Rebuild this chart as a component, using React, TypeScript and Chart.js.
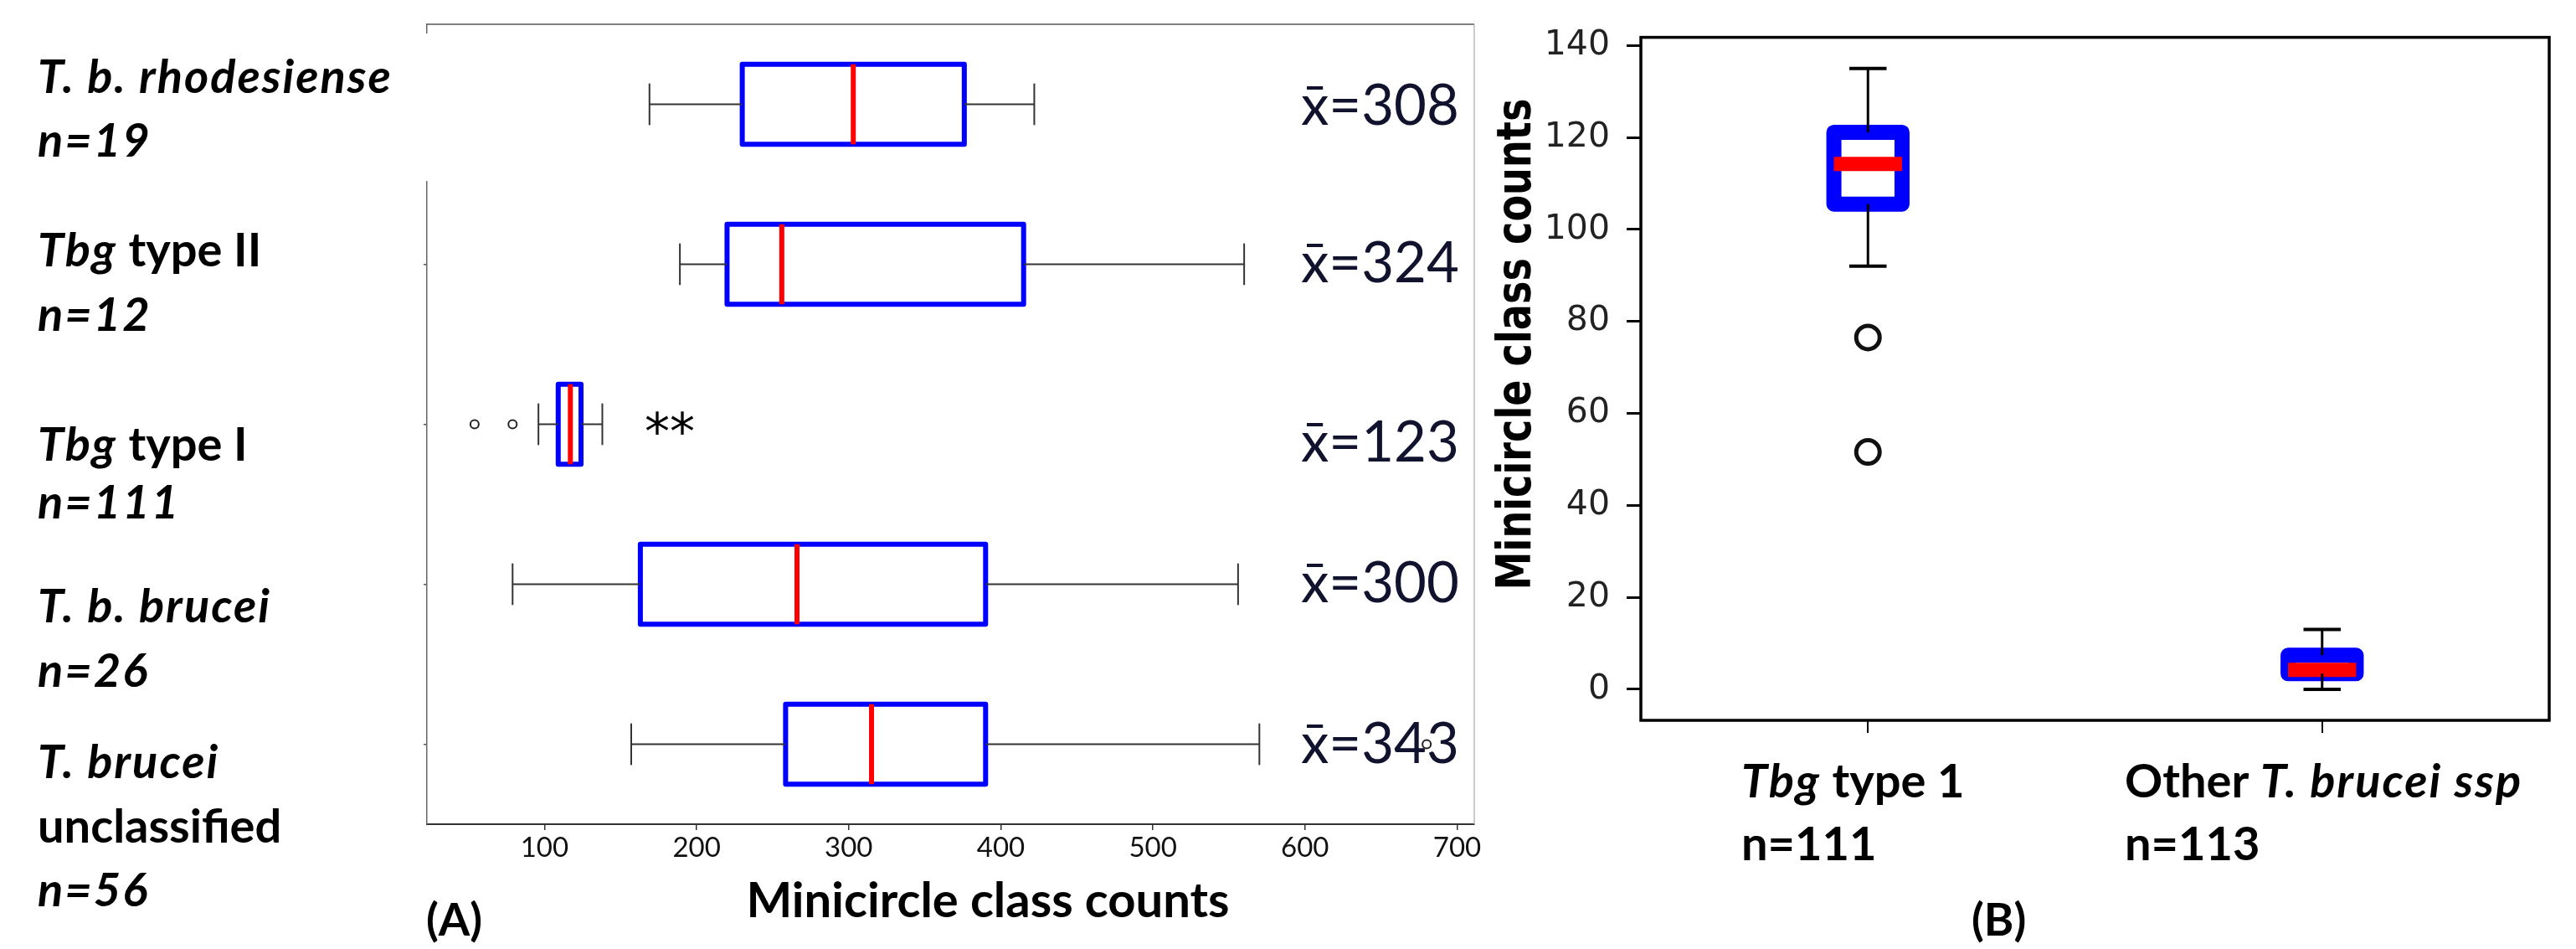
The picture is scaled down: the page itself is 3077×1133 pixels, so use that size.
import React, { useEffect, useRef } from 'react';
import { Chart, registerables } from 'chart.js';

Chart.register(...registerables);

// ---------- Panel A data ----------
const categoriesA = ['T. b. rhodesiense', 'Tbg type II', 'Tbg type I', 'T. b. brucei', 'T. brucei unclassified'];
const countsA = [19, 12, 111, 26, 56];
const whiskerLowA = [169, 189, 96, 79, 157];
const q1A = [230, 220, 109, 163, 258.5];
const medianA = [303, 256, 117, 266, 315];
const q3A = [376, 415, 124, 390, 390];
const whiskerHighA = [422, 560, 138, 556, 570];
const outlierValuesA = [54, 79, 680];
const outlierGroupsA = ['Tbg type I', 'Tbg type I', 'T. brucei unclassified'];
const meansA = [308, 324, 123, 300, 343];
const xRangeA = [22.7, 711.3];
const xTickStepA = 100;

// ---------- Panel B data ----------
const categoriesB = ['Tbg type 1', 'Other T. brucei ssp'];
const countsB = [111, 113];
const whiskerLowB = [92, 0];
const q1B = [105.5, 3.4];
const medianB = [114.2, 4.2];
const q3B = [121.1, 7.4];
const whiskerHighB = [135, 13];
const outlierValuesB = [76.5, 51.6];
const outlierGroupsB = ['Tbg type 1', 'Tbg type 1'];
const yRangeB = [-6.75, 141.75];
const yTickStepB = 20;

type Seg = [string, boolean];

const rowLabelsA: Seg[][][] = [
  [[['T. b. rhodesiense', true]], [['n=' + countsA[0], true]]],
  [[['Tbg', true], [' type II', false]], [['n=' + countsA[1], true]]],
  [[['Tbg', true], [' type I', false]], [['n=' + countsA[2], true]]],
  [[['T. b. brucei', true]], [['n=' + countsA[3], true]]],
  [[['T. brucei', true]], [['unclassified', false]], [['n=' + countsA[4], true]]],
];
const colLabelsB: Seg[][][] = [
  [[['Tbg', true], [' type 1', false]], [['n=' + countsB[0], false]]],
  [[['Other ', false], ['T. brucei ssp', true]], [['n=' + countsB[1], false]]],
];

const CANVAS_A_W = 1785;
const CANVAS_B_LEFT = 1770;
const CANVAS_B_W = 3077 - CANVAS_B_LEFT;
const H = 1133;

const BLUE = '#0000ff';
const RED = '#ff0000';

function drawRich(ctx: CanvasRenderingContext2D, x: number, y: number, segs: Seg[], size: number, family: string) {
  let cx = x;
  for (const [t, it] of segs) {
    ctx.font = `${it ? 'italic ' : ''}bold ${size}px ${family}`;
    (ctx as any).letterSpacing = it ? '2px' : '0px';
    ctx.fillText(t, cx, y);
    cx += ctx.measureText(t).width;
  }
  (ctx as any).letterSpacing = '0px';
}

interface BoxOpts {
  horizontal: boolean;
  low: number[]; q1: number[]; med: number[]; q3: number[]; high: number[];
  boxWidth: number; capWidth: number;
  boxLine: number; medLine: number; whiskerLine: number; capLine: number;
  whiskerColor: string; join: CanvasLineJoin;
}

function drawBoxes(chart: any, o: BoxOpts) {
  const ctx: CanvasRenderingContext2D = chart.ctx;
  const valScale = o.horizontal ? chart.scales.x : chart.scales.y;
  const catScale = o.horizontal ? chart.scales.y : chart.scales.x;
  const spacing = Math.abs(catScale.getPixelForValue(1) - catScale.getPixelForValue(0));
  const hw = (spacing * o.boxWidth) / 2;
  const chw = (spacing * o.capWidth) / 2;
  const line = (a: number[], b: number[]) => {
    ctx.beginPath();
    ctx.moveTo(a[0], a[1]);
    ctx.lineTo(b[0], b[1]);
    ctx.stroke();
  };
  for (let i = 0; i < o.q1.length; i++) {
    const c = catScale.getPixelForValue(i);
    const pt = (v: number, off: number) => {
      const p = valScale.getPixelForValue(v);
      return o.horizontal ? [p, c + off] : [c + off, p];
    };
    ctx.save();
    // box
    ctx.strokeStyle = BLUE;
    ctx.lineWidth = o.boxLine;
    ctx.lineJoin = o.join;
    const a = pt(o.q1[i], -hw), b = pt(o.q3[i], -hw), d = pt(o.q3[i], hw), e = pt(o.q1[i], hw);
    ctx.beginPath();
    ctx.moveTo(a[0], a[1]);
    ctx.lineTo(b[0], b[1]);
    ctx.lineTo(d[0], d[1]);
    ctx.lineTo(e[0], e[1]);
    ctx.closePath();
    ctx.stroke();
    // median
    ctx.strokeStyle = RED;
    ctx.lineWidth = o.medLine;
    ctx.lineCap = 'square';
    line(pt(o.med[i], -hw + o.medLine / 2), pt(o.med[i], hw - o.medLine / 2));
    // whiskers
    ctx.lineCap = 'butt';
    ctx.strokeStyle = o.whiskerColor;
    ctx.lineWidth = o.whiskerLine;
    line(pt(o.low[i], 0), pt(o.q1[i], 0));
    line(pt(o.q3[i], 0), pt(o.high[i], 0));
    // caps
    ctx.lineWidth = o.capLine;
    line(pt(o.low[i], -chw), pt(o.low[i], chw));
    line(pt(o.high[i], -chw), pt(o.high[i], chw));
    ctx.restore();
  }
}

const pluginA = {
  id: 'panelA',
  beforeDatasetsDraw(chart: any) {
    const ctx: CanvasRenderingContext2D = chart.ctx;
    drawBoxes(chart, {
      horizontal: true,
      low: whiskerLowA, q1: q1A, med: medianA, q3: q3A, high: whiskerHighA,
      boxWidth: 0.5, capWidth: 0.26,
      boxLine: 6, medLine: 6, whiskerLine: 2, capLine: 2,
      whiskerColor: '#333', join: 'round',
    });
    // mean labels
    const baselines = [149, 337, 551, 719, 911];
    ctx.save();
    ctx.fillStyle = '#10122e';
    ctx.font = '67px Lato';
    ctx.textAlign = 'left';
    ctx.textBaseline = 'alphabetic';
    meansA.forEach((m, i) => ctx.fillText('x\u0304=' + m, 1554, baselines[i]));
    ctx.restore();
  },
  afterDraw(chart: any) {
    const ctx: CanvasRenderingContext2D = chart.ctx;
    const { left, right, top, bottom } = chart.chartArea;
    ctx.save();
    // top & right frame lines
    ctx.strokeStyle = '#555';
    ctx.lineWidth = 1.5;
    ctx.beginPath();
    ctx.moveTo(left, top);
    ctx.lineTo(right, top);
    ctx.stroke();
    ctx.strokeStyle = '#aaa';
    ctx.lineWidth = 1.2;
    ctx.beginPath();
    ctx.moveTo(right, top);
    ctx.lineTo(right, bottom);
    ctx.stroke();
    // gap in the left spine
    ctx.fillStyle = '#fff';
    ctx.fillRect(left - 8, top + 11, 14, 176);
    // row labels
    ctx.fillStyle = '#000';
    ctx.textAlign = 'left';
    ctx.textBaseline = 'alphabetic';
    const lineBase = [[111, 187], [318, 395], [550, 619], [743, 820], [929, 1006, 1082]];
    rowLabelsA.forEach((lines, i) => {
      lines.forEach((segs, j) => drawRich(ctx, 45, lineBase[i][j], segs, 56, 'Lato'));
    });
    // significance mark
    ctx.font = '60px "DejaVu Sans"';
    ctx.fillText('**', 770, 536);
    // axis title and panel letter
    ctx.font = 'bold 58px Lato';
    ctx.textAlign = 'center';
    ctx.fillText('Minicircle class counts', 1180, 1095);
    ctx.textAlign = 'left';
    ctx.font = 'bold 54px Lato';
    ctx.fillText('(A)', 509, 1117);
    ctx.restore();
  },
};

const pluginB = {
  id: 'panelB',
  beforeDatasetsDraw(chart: any) {
    drawBoxes(chart, {
      horizontal: false,
      low: whiskerLowB, q1: q1B, med: medianB, q3: q3B, high: whiskerHighB,
      boxWidth: 0.15, capWidth: 0.082,
      boxLine: 18, medLine: 17, whiskerLine: 3, capLine: 4,
      whiskerColor: '#000', join: 'round',
    });
  },
  afterDraw(chart: any) {
    const ctx: CanvasRenderingContext2D = chart.ctx;
    const { left, right, top, bottom } = chart.chartArea;
    const ox = CANVAS_B_LEFT;
    ctx.save();
    ctx.strokeStyle = '#000';
    ctx.lineWidth = 3.5;
    ctx.strokeRect(left, top, right - left, bottom - top);
    // y title (rotated)
    ctx.save();
    ctx.translate(1828 - ox, 411);
    ctx.rotate(-Math.PI / 2);
    ctx.scale(0.81, 1);
    ctx.fillStyle = '#000';
    ctx.font = 'bold 57px "DejaVu Sans"';
    ctx.textAlign = 'center';
    ctx.textBaseline = 'alphabetic';
    ctx.fillText('Minicircle class counts', 0, 0);
    ctx.restore();
    // category labels
    ctx.fillStyle = '#000';
    ctx.textAlign = 'left';
    ctx.textBaseline = 'alphabetic';
    const xs = [2080, 2538];
    const bases = [952, 1027];
    colLabelsB.forEach((lines, i) => {
      lines.forEach((segs, j) => drawRich(ctx, xs[i] - ox, bases[j], segs, 56, 'Lato'));
    });
    ctx.font = 'bold 54px Lato';
    ctx.fillText('(B)', 2355 - ox, 1117);
    ctx.restore();
  },
};

export default function App() {
  const refA = useRef<HTMLCanvasElement>(null);
  const refB = useRef<HTMLCanvasElement>(null);

  useEffect(() => {
    document.body.style.margin = '0';
    const chartA = new Chart(refA.current as HTMLCanvasElement, {
      type: 'scatter',
      data: {
        datasets: [
          {
            data: outlierValuesA.map((v, i) => ({ x: v, y: outlierGroupsA[i] })) as any,
            pointStyle: 'circle',
            radius: 5,
            borderWidth: 2,
            borderColor: '#222',
            backgroundColor: 'rgba(0,0,0,0)',
          },
        ],
      },
      options: {
        responsive: false,
        animation: false,
        events: [],
        layout: { padding: { top: 29, right: CANVAS_A_W - 1761, left: 0, bottom: 0 } },
        plugins: { legend: { display: false }, tooltip: { enabled: false } },
        scales: {
          x: {
            type: 'linear',
            position: 'bottom',
            min: xRangeA[0],
            max: xRangeA[1],
            ticks: { stepSize: xTickStepA, includeBounds: false, font: { family: 'Lato', size: 33 }, color: '#111', padding: 2 },
            grid: { drawOnChartArea: false, drawTicks: true, tickLength: 7, color: '#333', lineWidth: 1.5 },
            border: { display: true, color: '#333', width: 2 },
            afterFit: (s: any) => { s.height = H - 984; },
          },
          y: {
            type: 'category',
            labels: categoriesA,
            offset: true,
            position: 'left',
            ticks: { display: false },
            grid: { drawOnChartArea: false, drawTicks: true, tickLength: 4, color: '#555', lineWidth: 1.5 },
            border: { display: true, color: '#666', width: 1.5 },
            afterFit: (s: any) => { s.width = 510; },
          },
        },
      } as any,
      plugins: [pluginA],
    });

    const chartB = new Chart(refB.current as HTMLCanvasElement, {
      type: 'scatter',
      data: {
        datasets: [
          {
            data: outlierValuesB.map((v, i) => ({ x: outlierGroupsB[i], y: v })) as any,
            pointStyle: 'circle',
            radius: 14,
            borderWidth: 5,
            borderColor: '#111',
            backgroundColor: 'rgba(0,0,0,0)',
          },
        ],
      },
      options: {
        responsive: false,
        animation: false,
        events: [],
        layout: { padding: { top: 38, right: CANVAS_B_W - (3045 - CANVAS_B_LEFT), left: 0, bottom: 0 } },
        plugins: { legend: { display: false }, tooltip: { enabled: false } },
        scales: {
          x: {
            type: 'category',
            labels: categoriesB,
            offset: true,
            ticks: { display: false },
            grid: { drawOnChartArea: false, drawTicks: true, tickLength: 15, color: '#000', lineWidth: 2 },
            border: { display: false },
            afterFit: (s: any) => { s.height = H - 860; },
          },
          y: {
            type: 'linear',
            min: yRangeB[0],
            max: yRangeB[1],
            ticks: { stepSize: yTickStepB, includeBounds: false, font: { family: '"DejaVu Sans"', size: 41 }, color: '#222', padding: 20 },
            grid: { drawOnChartArea: false, drawTicks: true, tickLength: 17, color: '#000', lineWidth: 3 },
            border: { display: false },
            afterFit: (s: any) => { s.width = 1960 - CANVAS_B_LEFT; },
          },
        },
      } as any,
      plugins: [pluginB],
    });

    return () => {
      chartA.destroy();
      chartB.destroy();
    };
  }, []);

  return (
    <div style={{ position: 'absolute', left: 0, top: 0, width: 3077, height: H, background: '#fff', overflow: 'hidden' }}>
      <canvas ref={refA} width={CANVAS_A_W} height={H} style={{ position: 'absolute', left: 0, top: 0, width: CANVAS_A_W, height: H }} />
      <canvas ref={refB} width={CANVAS_B_W} height={H} style={{ position: 'absolute', left: CANVAS_B_LEFT, top: 0, width: CANVAS_B_W, height: H }} />
    </div>
  );
}
